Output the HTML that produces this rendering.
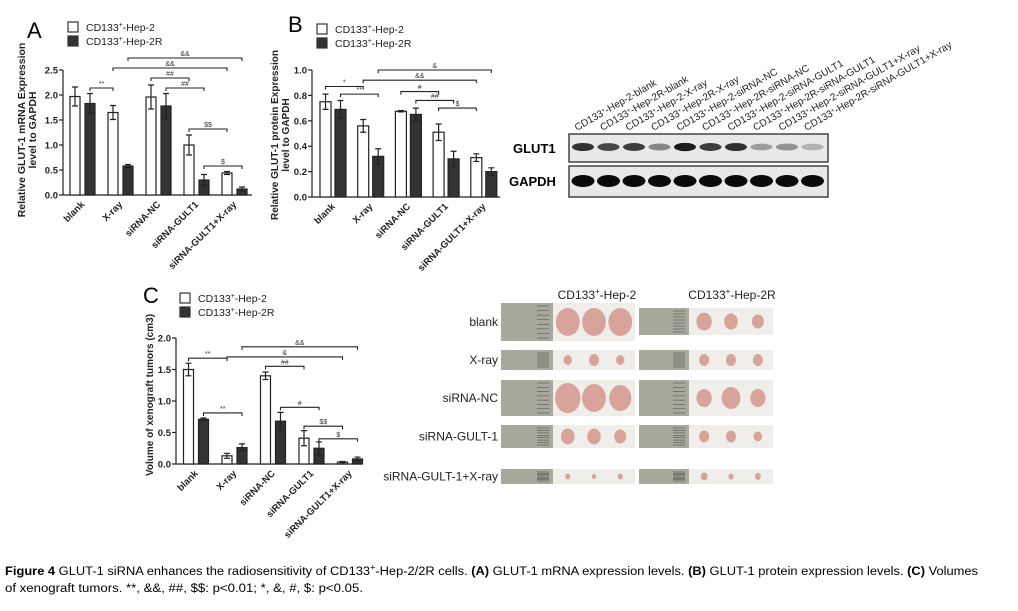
<!DOCTYPE html>
<html><head><meta charset="utf-8"><style>
body{margin:0;background:#fff;}
svg{display:block;font-family:"Liberation Sans",Arial,sans-serif;}
</style></head><body>
<svg id="fig" width="1018" height="611" viewBox="0 0 1018 611" xmlns="http://www.w3.org/2000/svg">
<rect width="1018" height="611" fill="#fff"/>
<g id="charts"></g>
<g id="blot"></g>
<g id="photos"></g>
<text x="5" y="575" font-size="11.5" textLength="973" lengthAdjust="spacingAndGlyphs"><tspan font-weight="bold">Figure 4</tspan> GLUT-1 siRNA enhances the radiosensitivity of CD133<tspan font-size="8" dy="-5">+</tspan><tspan dy="5">-Hep-2/2R cells. </tspan><tspan font-weight="bold">(A)</tspan> GLUT-1 mRNA expression levels. <tspan font-weight="bold">(B)</tspan> GLUT-1 protein expression levels. <tspan font-weight="bold">(C)</tspan> Volumes</text>
<text x="5" y="592" font-size="11.5" textLength="358" lengthAdjust="spacingAndGlyphs">of xenograft tumors. **, &amp;&amp;, ##, $$: p&lt;0.01; *, &amp;, #, $: p&lt;0.05.</text>
</svg>
<script>
const NS="http://www.w3.org/2000/svg";
function mk(parent,tag,attrs,text){const e=document.createElementNS(NS,tag);for(const k in attrs)e.setAttribute(k,attrs[k]);if(text!==undefined)e.textContent=text;parent.appendChild(e);return e;}

// ---- data ----
const categories=["blank","X-ray","siRNA-NC","siRNA-GULT1","siRNA-GULT1+X-ray"];
const seriesNames=["CD133+-Hep-2","CD133+-Hep-2R"];
const aHep2=[1.97,1.65,1.96,1.0,0.44];
const aHep2Err=[0.19,0.14,0.24,0.2,0.03];
const aHep2R=[1.83,0.58,1.78,0.3,0.12];
const aHep2RErr=[0.2,0.03,0.25,0.11,0.04];
const aTicks=[0,0.5,1.0,1.5,2.0,2.5];
const aSig=[[1,0,0,1,2.14,"**"],[0,2,0,3,2.34,"##"],[1,2,1,3,2.14,"##"],[0,1,0,4,2.54,"&&"],[1,1,1,4,2.74,"&&"],[0,3,0,4,1.32,"$$"],[1,3,1,4,0.58,"$"]];
const bHep2=[0.75,0.56,0.675,0.51,0.31];
const bHep2Err=[0.06,0.05,0.005,0.065,0.03];
const bHep2R=[0.69,0.32,0.65,0.30,0.20];
const bHep2RErr=[0.07,0.06,0.05,0.06,0.03];
const bTicks=[0,0.2,0.4,0.6,0.8,1.0];
const bSig=[[0,0,0,1,0.87,"*"],[1,0,1,1,0.81,"**"],[0,1,0,4,0.92,"&&"],[1,1,1,4,1.0,"&"],[0,2,0,3,0.83,"#"],[1,2,1,3,0.76,"##"],[0,3,0,4,0.70,"$"]];
const cHep2=[1.5,0.13,1.4,0.41,0.03];
const cHep2Err=[0.1,0.04,0.06,0.12,0.01];
const cHep2R=[0.71,0.26,0.68,0.25,0.08];
const cHep2RErr=[0.02,0.06,0.14,0.1,0.03];
const cTicks=[0,0.5,1.0,1.5,2.0];
const cSig=[[0,0,0,1,1.68,"**"],[1,1,1,4,1.86,"&&"],[0,1,0,4,1.70,"&"],[0,2,0,3,1.55,"##"],[1,0,1,1,0.81,"**"],[1,2,1,3,0.9,"#"],[0,3,0,4,0.6,"$$"],[1,3,1,4,0.4,"$"]];

function chart(cfg){
  const g=mk(document.getElementById('charts'),'g',{});
  
  
  const y=v=>cfg.y0-(v-cfg.min)/(cfg.max-cfg.min)*(cfg.y0-cfg.y1);
  const bx=(s,i)=>cfg.firstX+i*cfg.spacing+s*15;
  const L=mk(g,'text',{x:cfg.letterX,y:cfg.letterY,'font-size':22},cfg.letter);
  
  ['#fff','#333'].forEach((c,s)=>{
    const r=mk(g,'rect',{x:cfg.legX,y:cfg.legY+s*14,width:10,height:10,fill:c,stroke:'#333','stroke-width':1.2});
    
    const t=mk(g,'text',{x:cfg.legX+18,y:cfg.legY+s*14+9,'font-size':10.5,fill:'#222'});
    
    t.innerHTML='CD133<tspan font-size="7" dy="-4">+</tspan><tspan dy="4">'+(s?'-Hep-2R':'-Hep-2')+'</tspan>';
  });
  const ax=mk(g,'line',{x1:cfg.axX,y1:y(cfg.max),x2:cfg.axX,y2:cfg.y0,stroke:'#222','stroke-width':1.2});
  
  const xa=mk(g,'line',{x1:cfg.axX,y1:cfg.y0,x2:cfg.axEnd,y2:cfg.y0,stroke:'#222','stroke-width':1.2});
  
  cfg.ticks.forEach(v=>{
    mk(g,'line',{x1:cfg.axX-4,y1:y(v),x2:cfg.axX,y2:y(v),stroke:'#222','stroke-width':1.2});
    const t=mk(g,'text',{x:cfg.axX-5,y:y(v)+3.5,'font-size':9.5,'font-weight':'bold','text-anchor':'end',fill:'#222'},v.toFixed(1));
    
  });
  cfg.ytitle.forEach((line,k)=>{
    const tx=cfg.ytX+k*11;
    const t=mk(g,'text',{x:tx,y:cfg.ytY,'font-size':cfg.ytSize,'font-weight':'bold','text-anchor':'middle',fill:'#222',transform:`rotate(-90 ${tx} ${cfg.ytY})`},line);
    
  });
  [cfg.s0,cfg.s1].forEach((vals,s)=>{
    const errs=s?cfg.e1:cfg.e0;
    vals.forEach((v,i)=>{
      const cx=bx(s,i);
      const r=mk(g,'rect',{x:cx-cfg.bw/2,y:y(v),width:cfg.bw,height:cfg.y0-y(v),fill:s?'#333':'#fff',stroke:'#222','stroke-width':1.2});
      
      const e=errs[i];
      const eg=mk(g,'path',{d:`M${cx} ${y(v+e)}V${y(v-e)}M${cx-3} ${y(v+e)}H${cx+3}M${cx-3} ${y(v-e)}H${cx+3}`,stroke:'#222','stroke-width':1.2,fill:'none'});
      
    });
  });
  categories.forEach((c,i)=>{
    const cx=cfg.firstX+i*cfg.spacing+10, ty=cfg.y0+10;
    const t=mk(g,'text',{x:cx,y:ty,'font-size':9.5,'font-weight':'bold','text-anchor':'end',fill:'#222',transform:`rotate(-45 ${cx} ${ty})`},c);
    
  });
  cfg.sig.forEach(b=>{
    const x1=bx(b[0],b[1]),x2=bx(b[2],b[3]),yy=y(b[4]);
    const p=mk(g,'path',{d:`M${x1} ${yy+3}V${yy}H${x2}V${yy+3}`,stroke:'#222','stroke-width':1.1,fill:'none'});
    
    const t=mk(g,'text',{x:(x1+x2)/2,y:yy-2,'font-size':7,'text-anchor':'middle',fill:'#333'},b[5]);
    
  });
}
chart({name:'chart-a-mrna',letter:'A',letterX:27,letterY:38,legX:68,legY:22,min:0,max:2.5,y0:195,y1:70,axX:63,axEnd:252,firstX:75,spacing:38,bw:10,
  s0:aHep2,e0:aHep2Err,s1:aHep2R,e1:aHep2RErr,ticks:aTicks,sig:aSig,ytitle:["Relative GLUT-1 mRNA Expression","level to GAPDH"],ytX:25,ytY:130,ytSize:10.5});
chart({name:'chart-b-protein',letter:'B',letterX:288,letterY:32,legX:317,legY:24,min:0,max:1.0,y0:197,y1:70,axX:312,axEnd:500,firstX:325.5,spacing:37.7,bw:11,
  s0:bHep2,e0:bHep2Err,s1:bHep2R,e1:bHep2RErr,ticks:bTicks,sig:bSig,ytitle:["Relative GLUT-1 protein Expression","level to GAPDH"],ytX:278,ytY:135,ytSize:10});
chart({name:'chart-c-volume',letter:'C',letterX:143,letterY:303,legX:180,legY:293,min:0,max:2.0,y0:464,y1:338,axX:176,axEnd:362,firstX:188.5,spacing:38.5,bw:10,
  s0:cHep2,e0:cHep2Err,s1:cHep2R,e1:cHep2RErr,ticks:cTicks,sig:cSig,ytitle:["Volume of xenograft tumors (cm3)"],ytX:153,ytY:395,ytSize:10});

// ---- western blot ----
const laneLabels=["CD133+-Hep-2-blank","CD133+-Hep-2R-blank","CD133+-Hep-2-X-ray","CD133+-Hep-2R-X-ray","CD133+-Hep-2-siRNA-NC","CD133+-Hep-2R-siRNA-NC","CD133+-Hep-2-siRNA-GULT1","CD133+-Hep-2R-siRNA-GULT1","CD133+-Hep-2-siRNA-GULT1+X-ray","CD133+-Hep-2R-siRNA-GULT1+X-ray"];
const glutBand=[0.85,0.75,0.8,0.45,0.95,0.8,0.85,0.35,0.4,0.25];
const gapdhBand=[1,1,1,1,1,1,1,1,1,1];
(function(){
  const g=document.getElementById('blot');
  const bt=mk(g,'text',{x:513,y:153,'font-size':13,'font-weight':'bold'},'GLUT1');
  
  const bg=mk(g,'text',{x:509,y:186,'font-size':13,'font-weight':'bold'},'GAPDH');
  
  [[134,28],[166,31]].forEach(([yy,h])=>{
    const r=mk(g,'rect',{x:569,y:yy,width:259,height:h,fill:'#e8e8e8',stroke:'#444','stroke-width':1.5});
    
  });
  laneLabels.forEach((l,i)=>{
    const cx=583+i*25.5;
    const e1=mk(g,'ellipse',{cx:cx,cy:147,rx:11,ry:3+glutBand[i]*1.2,fill:'#111','fill-opacity':glutBand[i]});
    
    const e2=mk(g,'ellipse',{cx:cx,cy:181,rx:11.5,ry:6*gapdhBand[i],fill:'#0a0a0a'});
    
    const tx=cx-6,ty=131;
    const t=mk(g,'text',{x:tx,y:ty,'font-size':10,fill:'#222',transform:`rotate(-30 ${tx} ${ty})`});
    
    t.innerHTML='CD133<tspan font-size="6" dy="-3">+</tspan><tspan dy="3">'+l.slice(6)+'</tspan>';
  });
})();

// ---- tumor photos ----
const photoRows=["blank","X-ray","siRNA-NC","siRNA-GULT-1","siRNA-GULT-1+X-ray"];
const rowY=[[303,341,308,335],[350,370,350,370],[380,416,380,416],[425,448,425,448],[469,484,469,484]];
const tumorSize=[[14,14,14,9,8,7],[5,6,5,6,6,6],[15,14,13,9,11,9],[8,8,7,6,6,5],[3,2.5,3,4,3,3.5]];
(function(){
  const g=document.getElementById('photos');
  const h1=mk(g,'text',{x:597,y:299,'font-size':12,'text-anchor':'middle',fill:'#222'});
  h1.innerHTML='CD133<tspan font-size="8" dy="-5">+</tspan><tspan dy="5">-Hep-2</tspan>';
  
  const h2=mk(g,'text',{x:732,y:299,'font-size':12,'text-anchor':'middle',fill:'#222'});
  h2.innerHTML='CD133<tspan font-size="8" dy="-5">+</tspan><tspan dy="5">-Hep-2R</tspan>';
  
  photoRows.forEach((r,k)=>{
    const [a,b,c,d]=rowY[k];
    const t=mk(g,'text',{x:498,y:(a+b)/2+4,'font-size':12,'text-anchor':'end',fill:'#222'},r);
    
    [[501,553,635,a,b],[639,689,773,c,d]].forEach(([rx,tx,ex,y1,y2],col)=>{
      const ru=mk(g,'rect',{x:rx,y:y1,width:tx-rx,height:y2-y1,fill:'#a8a89c'});
      
      for(let q=0;q<8;q++)mk(g,'line',{x1:tx-16,x2:tx-4,y1:y1+3+q*(y2-y1-6)/7,y2:y1+3+q*(y2-y1-6)/7,stroke:'#555','stroke-width':0.6});
      const bg=mk(g,'rect',{x:tx,y:y1,width:ex-tx,height:y2-y1,fill:'#efeeea'});
      
      for(let j=0;j<3;j++){
        const s=tumorSize[k][col*3+j];
        const e=mk(g,'ellipse',{cx:tx+(ex-tx)*(0.18+j*0.32),cy:(y1+y2)/2,rx:s*0.85,ry:s,fill:'#d8a49a'});
        
      }
    });
  });
})();
</script>
</body></html>
